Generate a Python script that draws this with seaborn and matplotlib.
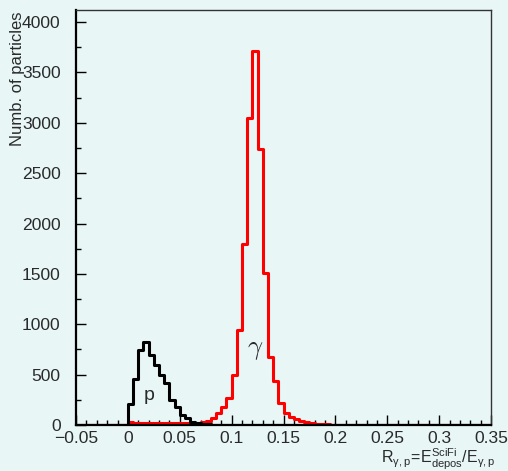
import numpy as np
import pandas as pd
import matplotlib
matplotlib.use("Agg")
import matplotlib.pyplot as plt
from matplotlib.ticker import MultipleLocator, FuncFormatter
import seaborn as sns

# ---- data (bin width 0.005, values are bin lower edges) ----
bin_width = 0.005
x_min, x_max = -0.05, 0.35

gamma_bin_lo = [0.000, 0.005, 0.010, 0.015, 0.020, 0.025, 0.030, 0.035, 0.040, 0.045,
                0.050, 0.055, 0.060, 0.065, 0.070, 0.075, 0.080, 0.085, 0.090, 0.095,
                0.100, 0.105, 0.110, 0.115, 0.120, 0.125, 0.130, 0.135, 0.140, 0.145,
                0.150, 0.155, 0.160, 0.165, 0.170, 0.175, 0.180, 0.185, 0.190, 0.195,
                0.200, 0.205, 0.210, 0.215]
gamma_counts = [30, 20, 15, 15, 15, 15, 15, 15, 15, 15,
                15, 17, 17, 20, 30, 42, 65, 118, 180, 268,
                497, 942, 1797, 3050, 3710, 2740, 1506, 678, 437, 218,
                124, 84, 58, 38, 25, 17, 12, 9, 6, 4,
                3, 2, 2, 1]

proton_bin_lo = [0.000, 0.005, 0.010, 0.015, 0.020, 0.025, 0.030, 0.035, 0.040,
                 0.045, 0.050, 0.055, 0.060, 0.065, 0.070, 0.075, 0.080]
proton_counts = [205, 460, 740, 820, 690, 595, 495, 415, 248,
                 178, 99, 66, 33, 17, 10, 5, 2]

x_ticks_major = [-0.05, 0.0, 0.05, 0.1, 0.15, 0.2, 0.25, 0.3, 0.35]
y_ticks_major = [0, 500, 1000, 1500, 2000, 2500, 3000, 3500, 4000]

ylabel = "Numb. of particles"
xlabel = r"$\mathregular{R_{\gamma,p}\!=\!E^{SciFi}_{depos}/E_{\gamma,p}}$"

# ---- style ----
sns.set_style("ticks")
bg = "#e8f6f6"
txt = "#2a2a2a"
plt.rcParams["font.family"] = ["Liberation Sans", "DejaVu Sans"]
plt.rcParams["mathtext.fontset"] = "custom"
plt.rcParams["mathtext.rm"] = "Liberation Sans"
plt.rcParams["mathtext.it"] = "Liberation Sans:italic"
plt.rcParams["mathtext.bf"] = "Liberation Sans:bold"

W, H = 508, 471
fig = plt.figure(figsize=(W / 100, H / 100), dpi=100, facecolor=bg)
ax = fig.add_axes([76 / W, 1 - 425 / H, (491 - 76) / W, (425 - 10) / H])
ax.set_facecolor(bg)

edges = list(np.round(np.arange(x_min, x_max + bin_width / 2, bin_width), 4))

df_gamma = pd.DataFrame({"x": np.array(gamma_bin_lo) + bin_width / 2, "w": gamma_counts})
df_proton = pd.DataFrame({"x": np.array(proton_bin_lo) + bin_width / 2, "w": proton_counts})

sns.histplot(data=df_gamma, x="x", weights="w", bins=edges, element="step",
             fill=False, color="#ff0000", linewidth=2.2, ax=ax)
sns.histplot(data=df_proton, x="x", weights="w", bins=edges, element="step",
             fill=False, color="black", linewidth=2.2, ax=ax)

ax.set_xlim(x_min, x_max)
ax.set_ylim(0, 4120)
ax.set_xlabel("")
ax.set_ylabel("")

ax.set_xticks(x_ticks_major)
ax.set_yticks(y_ticks_major)
ax.xaxis.set_minor_locator(MultipleLocator(0.01))
ax.yaxis.set_minor_locator(MultipleLocator(250))
ax.xaxis.set_major_formatter(FuncFormatter(lambda v, p: ("%g" % round(v, 3)).replace("-", "\u2212")))
ax.yaxis.set_major_formatter(FuncFormatter(lambda v, p: "%d" % v))

ax.tick_params(which="both", direction="in", top=False, right=False, colors="black",
               labelcolor=txt, labelsize=12.6, width=1.0)
ax.tick_params(which="major", length=7.5)
ax.tick_params(which="minor", length=3.8)
ax.tick_params(axis="x", pad=4)
ax.tick_params(axis="y", pad=11)

for s in ["left", "bottom"]:
    ax.spines[s].set_linewidth(1.6)
    ax.spines[s].set_color("black")
for s in ["top", "right"]:
    ax.spines[s].set_linewidth(1.0)
    ax.spines[s].set_color("#333333")
    ax.spines[s].set_visible(True)

ax.text(0.0208, 290, "p", fontsize=14, ha="center", va="center", color=txt)
ax.text(0.1225, 740, r"$\gamma$", math_fontfamily="cm", fontsize=19,
        ha="center", va="center", color=txt)

fig.text(18 / W, 1 - 12 / H, ylabel, rotation=90, ha="center", va="top",
         fontsize=12, color=txt)
fig.text(496 / W, 1 - 464 / H, xlabel, ha="right", va="baseline",
         fontsize=11.5, color=txt)

fig.savefig("out.png", dpi=100, facecolor=bg)
